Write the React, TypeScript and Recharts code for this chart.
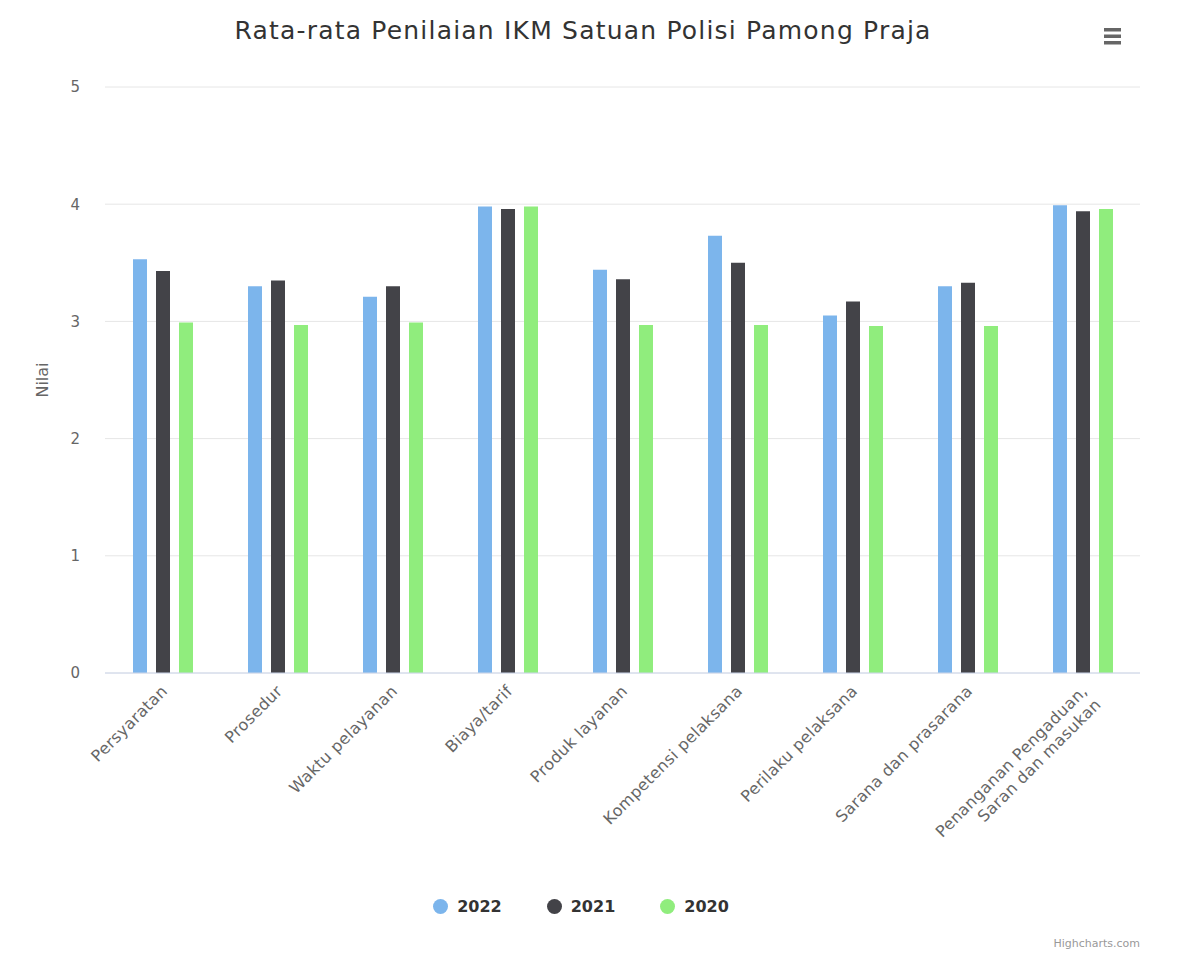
import React from 'react';
import { BarChart, Bar, XAxis, YAxis, CartesianGrid } from 'recharts';

const categories = [
  'Persyaratan',
  'Prosedur',
  'Waktu pelayanan',
  'Biaya/tarif',
  'Produk layanan',
  'Kompetensi pelaksana',
  'Perilaku pelaksana',
  'Sarana dan prasarana',
  'Penanganan Pengaduan, Saran dan masukan',
];

const values2022 = [3.53, 3.3, 3.21, 3.98, 3.44, 3.73, 3.05, 3.3, 3.99];
const values2021 = [3.43, 3.35, 3.3, 3.96, 3.36, 3.5, 3.17, 3.33, 3.94];
const values2020 = [2.99, 2.97, 2.99, 3.98, 2.97, 2.97, 2.96, 2.96, 3.96];

const yTicks = [0, 1, 2, 3, 4, 5];

const series = [
  { key: 'y2022', name: '2022', color: '#7cb5ec' },
  { key: 'y2021', name: '2021', color: '#434348' },
  { key: 'y2020', name: '2020', color: '#90ed7d' },
];

const data = categories.map((name, i) => ({
  name,
  y2022: values2022[i],
  y2021: values2021[i],
  y2020: values2020[i],
}));

const FONT = '"DejaVu Sans", "Lucida Grande", Arial, sans-serif';

// rotated category label, wrapped after a comma like highcharts does
const XTick = ({ x, y, payload }: any) => {
  const lines: string[] = String(payload.value).split(/(?<=,)\s/);
  const ax = x + 6;
  const ay = y + 19;
  return (
    <text
      x={ax}
      y={ay}
      transform={`rotate(-45, ${ax}, ${ay})`}
      textAnchor="end"
      fontSize={16}
      letterSpacing={0.4}
      fill="#666666"
      fontFamily={FONT}
    >
      {lines.map((l, i) => (
        <tspan key={i} x={ax} dy={i === 0 ? 0 : 19}>
          {l}
        </tspan>
      ))}
    </text>
  );
};

const YLabel = ({ viewBox }: any) => {
  const cx = 34;
  const cy = viewBox.y + viewBox.height / 2;
  return (
    <text
      x={cx}
      y={cy}
      transform={`rotate(-90, ${cx}, ${cy})`}
      textAnchor="middle"
      dominantBaseline="central"
      fontSize={16}
      fill="#666666"
      fontFamily={FONT}
    >
      Nilai
    </text>
  );
};

export default function App() {
  return (
    <div style={{ position: 'relative', width: 1176, height: 946, fontFamily: FONT }}>
      <div
        style={{
          position: 'absolute',
          left: 0,
          top: 8,
          width: 1150,
          textAlign: 'center',
          fontSize: 25,
          letterSpacing: 1.2,
          color: '#333333',
        }}
      >
        Rata-rata Penilaian IKM Satuan Polisi Pamong Praja
      </div>

      <svg style={{ position: 'absolute', left: 1096, top: 18 }} width={20} height={20}>
        <rect x={0} y={2} width={17} height={3.5} fill="#666666" />
        <rect x={0} y={8.5} width={17} height={3.5} fill="#666666" />
        <rect x={0} y={15} width={17} height={3.5} fill="#666666" />
      </svg>

      <BarChart
        width={1176}
        height={946}
        data={data}
        margin={{ top: 79, right: 44, left: 37, bottom: 81 }}
        barSize={14}
        barGap={9}
      >
        <CartesianGrid vertical={false} stroke="#e6e6e6" />
        <XAxis
          dataKey="name"
          interval={0}
          height={200}
          tickSize={0}
          tickMargin={0}
          axisLine={{ stroke: '#ccd6eb' }}
          tickLine={false}
          tick={<XTick />}
        />
        <YAxis
          width={60}
          domain={[0, 5]}
          ticks={yTicks}
          tickSize={0}
          tickMargin={25}
          axisLine={false}
          tickLine={false}
          tick={{ fill: '#666666', fontSize: 15, fontFamily: FONT }}
          label={<YLabel />}
        />
        {series.map((s) => (
          <Bar
            key={s.key}
            dataKey={s.key}
            name={s.name}
            fill={s.color}
            isAnimationActive={false}
          />
        ))}
      </BarChart>

      <div
        style={{
          position: 'absolute',
          left: 0,
          top: 889,
          width: 1146,
          display: 'flex',
          justifyContent: 'center',
          gap: 45,
        }}
      >
        {series.map((s) => (
          <div key={s.key} style={{ display: 'flex', alignItems: 'center' }}>
            <span
              style={{
                width: 15,
                height: 15,
                borderRadius: '50%',
                background: s.color,
                display: 'inline-block',
                marginRight: 9,
              }}
            />
            <span style={{ fontSize: 16, fontWeight: 'bold', color: '#333333' }}>{s.name}</span>
          </div>
        ))}
      </div>

      <div
        style={{
          position: 'absolute',
          right: 44,
          top: 929,
          fontSize: 11,
          color: '#999999',
        }}
      >
        Highcharts.com
      </div>
    </div>
  );
}
